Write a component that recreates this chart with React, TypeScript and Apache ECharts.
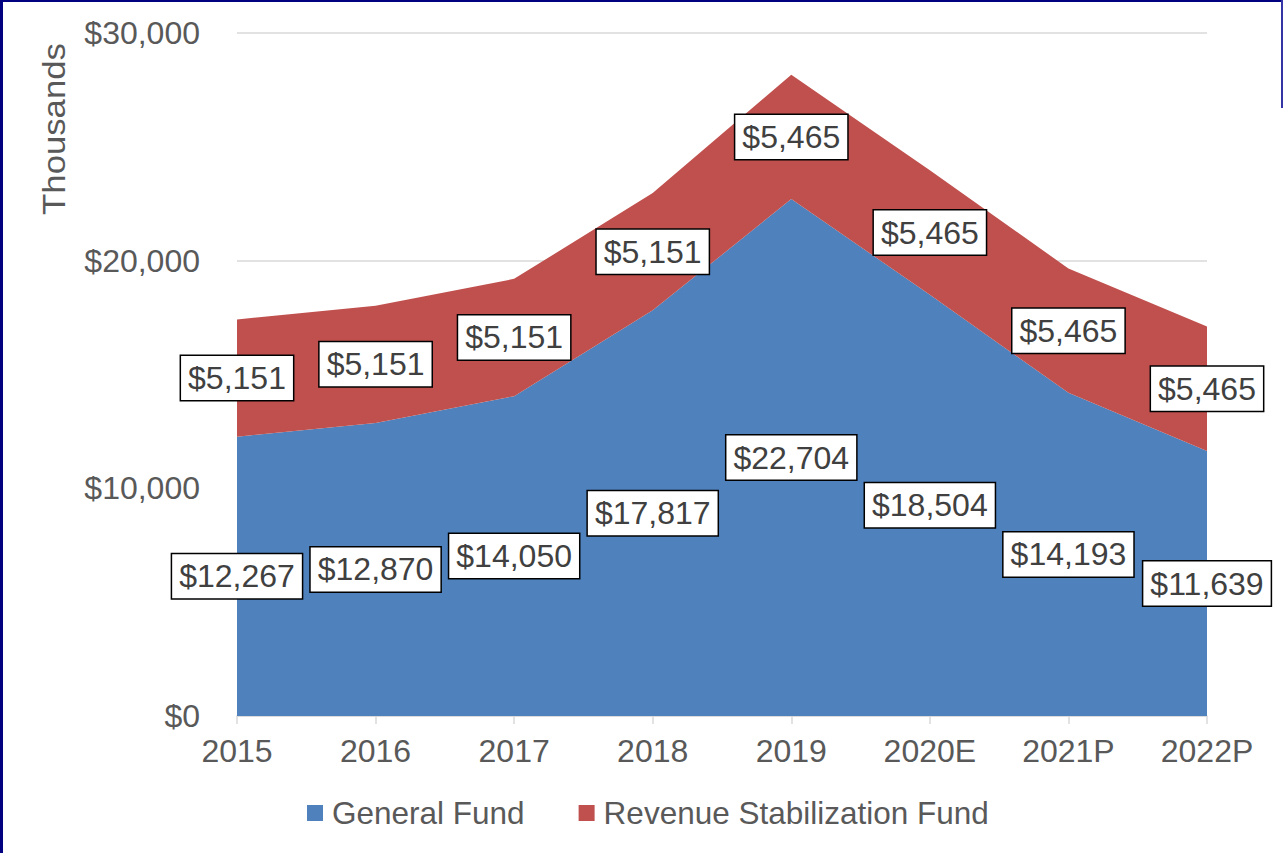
import React, { useEffect, useRef } from "react";
import * as echarts from "echarts";

const categories = ["2015", "2016", "2017", "2018", "2019", "2020E", "2021P", "2022P"];
const generalFund = [12267, 12870, 14050, 17817, 22704, 18504, 14193, 11639];
const revenueStabilization = [5151, 5151, 5151, 5151, 5465, 5465, 5465, 5465];
const yTicks = { min: 0, max: 30000, interval: 10000 };

const FONT = "'Liberation Sans', Arial, sans-serif";
const FS = 32;
const fmt = (v: number) => "$" + v.toLocaleString("en-US");

export default function App() {
  const ref = useRef<HTMLDivElement>(null);
  useEffect(() => {
    document.body.style.margin = "0";
    if (!ref.current) return;
    const chart = echarts.init(ref.current, undefined, { renderer: "svg" });
    const labelStyle = {
      show: true,
      position: "inside" as const,
      fontFamily: FONT,
      fontSize: FS,
      color: "#404040",
      backgroundColor: "#ffffff",
      borderColor: "#000000",
      borderWidth: 1.5,
      padding: [5, 7, 4, 7],
      lineHeight: 35,
      opacity: 1,
    };
    chart.setOption({
      animation: false,
      textStyle: { fontFamily: FONT },
      grid: { left: 237, right: 76, top: 33, bottom: 137 },
      legend: {
        data: ["General Fund", "Revenue Stabilization Fund"],
        left: 307,
        top: 797,
        padding: 0,
        icon: "rect",
        itemWidth: 16,
        itemHeight: 16,
        itemGap: 54,
        textStyle: { fontFamily: FONT, fontSize: 31.5, color: "#595959", padding: [0, 0, 0, 4] },
      },
      xAxis: {
        type: "category",
        data: categories,
        boundaryGap: false,
        axisLine: { lineStyle: { color: "#d9d9d9", width: 1.5 } },
        axisTick: { show: true, length: 8, lineStyle: { color: "#d9d9d9", width: 1.5 } },
        axisLabel: { fontFamily: FONT, fontSize: FS, color: "#595959", margin: 19 },
      },
      yAxis: {
        type: "value",
        min: yTicks.min,
        max: yTicks.max,
        interval: yTicks.interval,
        axisLine: { show: false },
        axisTick: { show: false },
        splitLine: { lineStyle: { color: "#d9d9d9", width: 1.5 } },
        axisLabel: {
          fontFamily: FONT,
          fontSize: FS,
          color: "#595959",
          margin: 37,
          formatter: (v: number) => fmt(v),
        },
      },
      graphic: [
        {
          type: "text",
          x: 54,
          y: 129,
          rotation: Math.PI / 2,
          scaleX: 1.12,
          style: {
            text: "Thousands",
            fontFamily: FONT,
            fontSize: 31,
            fill: "#595959",
            textAlign: "center",
            textVerticalAlign: "middle",
          },
        },
        { type: "rect", shape: { x: 0, y: 0, width: 3, height: 853 }, style: { fill: "#000080" }, z: 100 },
        { type: "rect", shape: { x: 0, y: 0, width: 1281, height: 2 }, style: { fill: "#000080" }, z: 100 },
        { type: "rect", shape: { x: 1281, y: 0, width: 2, height: 108 }, style: { fill: "#3535a8" }, z: 100 },
      ],
      series: [
        {
          name: "General Fund",
          type: "line",
          stack: "total",
          data: generalFund,
          symbol: "none",
          lineStyle: { width: 0 },
          itemStyle: { color: "#4f81bd" },
          areaStyle: { color: "#4f81bd", opacity: 1 },
        },
        {
          name: "Revenue Stabilization Fund",
          type: "line",
          stack: "total",
          data: revenueStabilization,
          symbol: "none",
          lineStyle: { width: 0 },
          itemStyle: { color: "#c0504d" },
          areaStyle: { color: "#c0504d", opacity: 1 },
        },
        {
          name: "gfLabels",
          type: "scatter",
          symbolSize: 0,
          silent: true,
          z: 10,
          itemStyle: { opacity: 1 },
          data: generalFund.map((v, i) => [categories[i], v / 2]),
          label: { ...labelStyle, formatter: (p: any) => fmt(generalFund[p.dataIndex]) },
        },
        {
          name: "rsfLabels",
          type: "scatter",
          symbolSize: 0,
          silent: true,
          z: 10,
          itemStyle: { opacity: 1 },
          data: revenueStabilization.map((v, i) => [categories[i], generalFund[i] + v / 2]),
          label: { ...labelStyle, formatter: (p: any) => fmt(revenueStabilization[p.dataIndex]) },
        },
      ],
    });
    return () => chart.dispose();
  }, []);
  return <div ref={ref} style={{ width: 1283, height: 853, background: "#fff" }} />;
}
